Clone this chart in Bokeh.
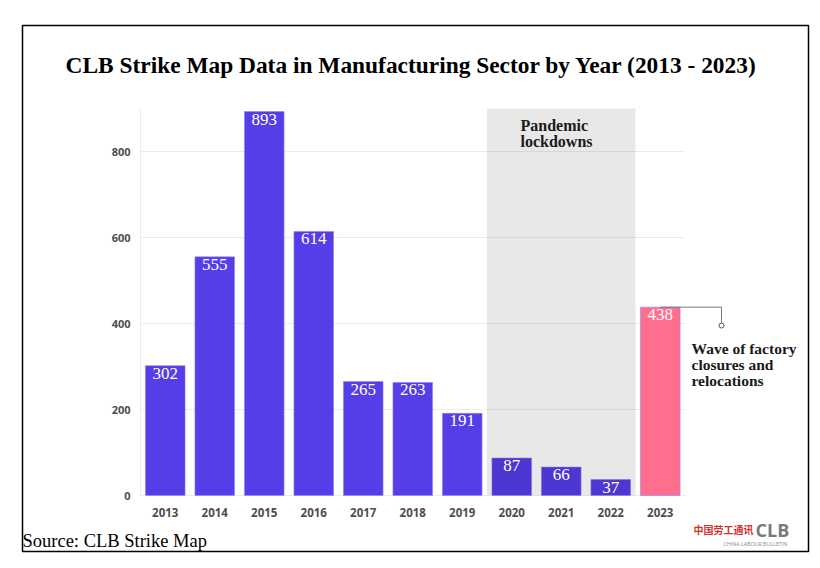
from bokeh.plotting import figure
from bokeh.models import ColumnDataSource, Range1d, FixedTicker
from bokeh.embed import file_html
from bokeh.resources import INLINE
from bokeh.core.properties import value

years = ["2013", "2014", "2015", "2016", "2017", "2018", "2019", "2020", "2021", "2022", "2023"]
counts = [302, 555, 893, 614, 265, 263, 191, 87, 66, 37, 438]
y_ticks = [0, 200, 400, 600, 800]
bar_colors = ["#553de8"] * 10 + ["#ff6e8d"]
note_lines = ["Wave of factory", "closures and", "relocations"]
pandemic_lines = ["Pandemic", "lockdowns"]
title_text = "CLB Strike Map Data in Manufacturing Sector by Year (2013 - 2023)"
source_text = "Source: CLB Strike Map"

W, H = 812, 560
PX = 49.5          # pixels per category
PY = 0.43          # pixels per unit
def px2x(px):
    return -0.5 + (px - 140) / PX
def py2y(py):
    return (495 - py) / PY

p = figure(width=W, height=H, output_backend="svg", toolbar_location=None,
           x_range=Range1d(px2x(22), px2x(808)), y_range=Range1d(py2y(551), py2y(25)),
           min_border_left=22, min_border_right=W - 808, min_border_top=25, min_border_bottom=H - 551)
p.outline_line_color = "black"
p.outline_line_width = 1.5
p.xgrid.visible = False
p.ygrid.visible = False
p.background_fill_color = "white"
p.border_fill_color = "white"

xs = list(range(len(years)))
src = ColumnDataSource(dict(x=xs, top=counts, color=bar_colors, lab=[str(c) for c in counts]))

# grid lines
p.segment(x0=[-0.5] * len(y_ticks), y0=y_ticks, x1=[len(years) - 0.5] * len(y_ticks), y1=y_ticks,
          line_color="#ececec", line_width=1)

p.vbar(x="x", top="top", width=0.8, bottom=0, fill_color="color", line_color="#8f82f2",
       line_alpha=0.6, line_width=1, source=src)

# pandemic shading
p.quad(left=[6.5], right=[9.5], bottom=[0], top=[900], fill_color="black", fill_alpha=0.09, line_color=None)

p.text(x="x", y="top", text="lab", source=src, text_color="white", text_align="center",
       text_baseline="top", y_offset=2, text_font=value("Liberation Serif"), text_font_size="17px")

p.text(x=[px2x(520)] * 2, y=[py2y(125), py2y(141)], text=pandemic_lines, text_color="#1a1a1a",
       text_baseline="middle", text_font=value("Liberation Serif"), text_font_style="bold",
       text_font_size="16px")

cx = px2x(721)
p.line(x=[10, cx, cx], y=[counts[-1], counts[-1], py2y(325)], line_color="#777777", line_width=1)
p.scatter(x=[cx], y=[py2y(325)], size=5, fill_color="white", line_color="#555555")
p.text(x=[px2x(691)] * 3, y=[py2y(348), py2y(364), py2y(380)], text=note_lines, text_color="#1a1a1a",
       text_baseline="middle", text_font=value("Liberation Serif"), text_font_style="bold",
       text_font_size="15.5px")

# title, source, logo
p.text(x=[px2x(411)], y=[py2y(64)], text=[title_text], text_align="center", text_baseline="middle",
       text_font=value("Liberation Serif"), text_font_style="bold", text_font_size="23.4px", text_color="black")
p.text(x=[px2x(22)], y=[py2y(540)], text=[source_text], text_align="left", text_baseline="middle",
       text_font=value("Liberation Serif"), text_font_size="18.5px", text_color="black")
p.text(x=[px2x(693)], y=[py2y(529)], text=["中国劳工通讯"], text_align="left", text_baseline="middle",
       text_font=value("Noto Sans CJK SC"), text_font_style="bold", text_font_size="10px", text_color="#d2302c")
p.text(x=[px2x(755)], y=[py2y(529)], text=["CLB"], text_align="left", text_baseline="middle",
       text_font=value("Open Sans"), text_font_style="bold", text_font_size="18px", text_color="#7a7a7a")
p.text(x=[px2x(723)], y=[py2y(543)], text=["CHINA LABOUR BULLETIN"], text_align="left", text_baseline="middle",
       text_font=value("Open Sans"), text_font_size="5.3px", text_color="#888888")

# axes at fixed positions inside the frame
p.yaxis.fixed_location = -0.5
p.yaxis.bounds = (0, 900)
p.yaxis.ticker = FixedTicker(ticks=y_ticks)
p.yaxis.axis_line_color = "#ececec"
p.yaxis.major_tick_line_color = None
p.yaxis.minor_tick_line_color = None
p.yaxis.major_label_text_font = "Open Sans"
p.yaxis.major_label_text_font_style = "bold"
p.yaxis.major_label_text_font_size = "11px"
p.yaxis.major_label_text_color = "#4d4d4d"
p.yaxis.major_label_standoff = 4

p.xaxis.fixed_location = 0
p.xaxis.ticker = FixedTicker(ticks=xs)
p.xaxis.major_label_overrides = {i: y for i, y in enumerate(years)}
p.xaxis.axis_line_color = None
p.xaxis.major_tick_line_color = None
p.xaxis.minor_tick_line_color = None
p.xaxis.major_label_text_font = "Open Sans"
p.xaxis.major_label_text_font_style = "bold"
p.xaxis.major_label_text_font_size = "11.5px"
p.xaxis.major_label_text_color = "#4d4d4d"
p.xaxis.major_label_standoff = 6

open("out.html", "w").write(file_html(p, INLINE))
